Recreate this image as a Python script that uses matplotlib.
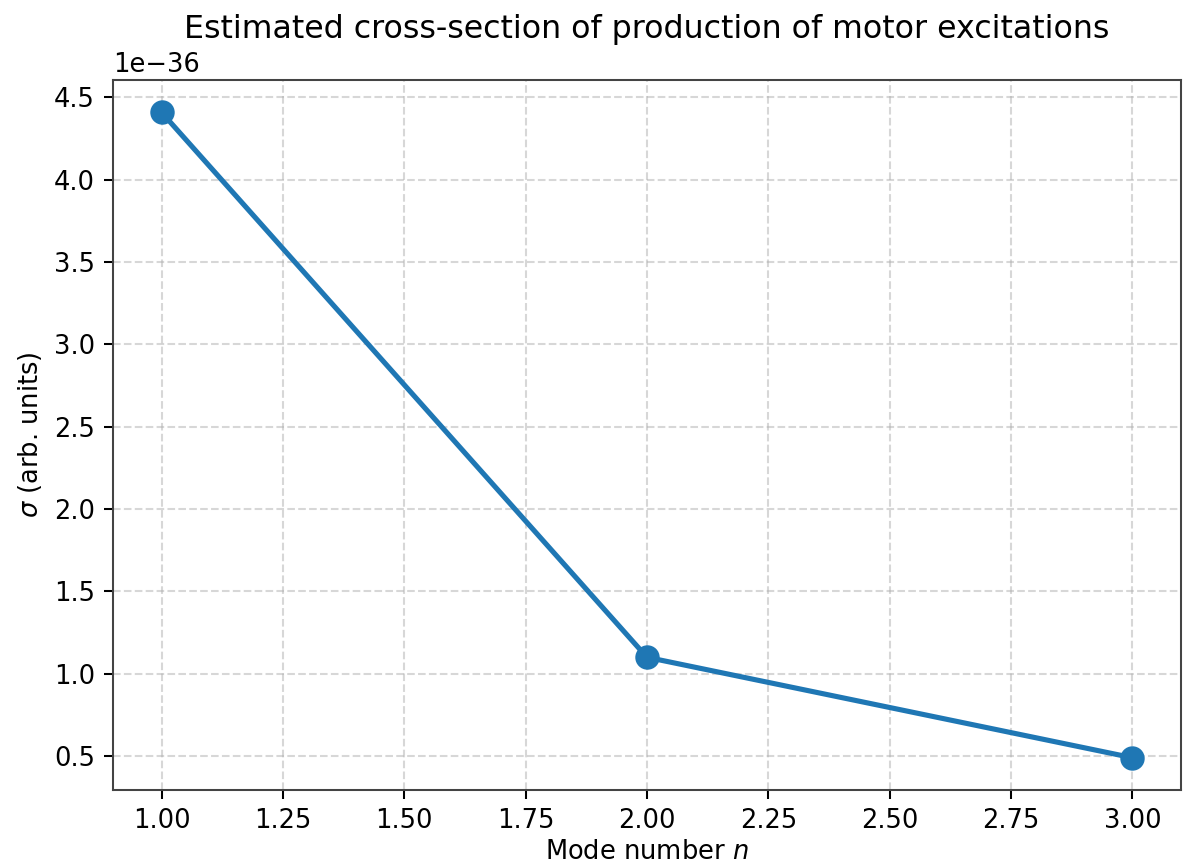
import matplotlib
matplotlib.use("Agg")
import matplotlib.pyplot as plt

# mode numbers and estimated cross-sections
modes = [1, 2, 3]
sigma = [4.41e-36, 1.10e-36, 0.49e-36]

fig, ax = plt.subplots(figsize=(6.4, 4.6865), dpi=185)
fig.subplots_adjust(left=0.0954, right=0.9975, top=0.9077, bottom=0.0888)

ax.plot(modes, sigma, marker="o", color="#1f77b4", linewidth=2, markersize=8.5)
ax.set_xlabel("Mode number $n$", labelpad=2)
ax.set_ylabel(r"$\sigma$ (arb. units)")
ax.set_title("Estimated cross-section of production of motor excitations",
             fontsize=12.3, pad=16.5)
ax.grid(True, linestyle="--", alpha=0.5)
for s in ax.spines.values():
    s.set_color("#444444")

fig.savefig("out.png", dpi=185)
